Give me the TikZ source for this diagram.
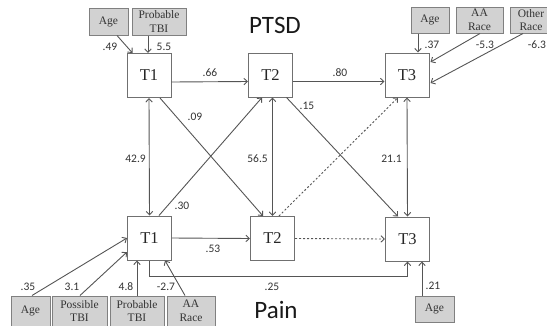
\documentclass[tikz,border=0pt]{standalone}
\usepackage{fontspec}
\setmainfont{Liberation Serif}
\newfontfamily\labfont{Carlito}
\usetikzlibrary{arrows.meta,calc}
\definecolor{boxc}{HTML}{707070}
\definecolor{gboxc}{HTML}{808080}
\definecolor{gfill}{HTML}{D2D2D2}
\definecolor{linec}{HTML}{555555}
\definecolor{labc}{HTML}{333333}
\begin{document}
\begin{tikzpicture}[x=1pt,y=-1pt,
 tbox/.style={draw=boxc, fill=white, line width=1pt, minimum width=44pt, minimum height=44pt, inner sep=0pt, text=black!85, font=\fontsize{16.5}{18}\selectfont},
 gbox/.style={draw=gboxc, fill=gfill, line width=1pt, inner sep=0pt, align=center, text=black!80, font=\fontsize{11.5}{13.5}\selectfont},
 arr/.style={draw=linec, line width=0.9pt, -{Straight Barb[length=3.5pt,width=6.5pt]}},
 darr/.style={draw=linec, line width=0.9pt, {Straight Barb[length=3.5pt,width=6.5pt]}-{Straight Barb[length=3.5pt,width=6.5pt]}},
 dotarr/.style={arr, dash pattern=on 2pt off 2pt},
 lbl/.style={font=\labfont\fontsize{11.5}{12}\selectfont, text=labc, inner sep=0pt},
 title/.style={font=\labfont\fontsize{25}{28}\selectfont, text=black!90, inner sep=0pt, anchor=base},
]
\useasboundingbox (0,0) rectangle (547,325);

% main boxes
\node[tbox] (t1p) at (149,75.5) {T1};
\node[tbox] (t2p) at (270.5,75) {T2};
\node[tbox] (t3p) at (407,75) {T3};
\node[tbox] (t1b) at (149.5,238) {T1};
\node[tbox] (t2b) at (272.5,238.5) {T2};
\node[tbox] (t3b) at (407.5,239) {T3};

% titles
\node[title] (ptsd) at (275,33) {PTSD};
\node[title] (pain) at (276,318.5) {Pain};

% covariate boxes top
\node[gbox, minimum width=39pt, minimum height=27pt] (agea) at (108.5,21.5) {Age};
\node[gbox, minimum width=54pt, minimum height=27pt] (tbia) at (159,21.5) {Probable\\TBI};
\node[gbox, minimum width=38pt, minimum height=26pt] (agec) at (430,20) {Age};
\node[gbox, minimum width=47pt, minimum height=26pt] (aac) at (479.5,20) {AA\\Race};
\node[gbox, minimum width=42pt, minimum height=26pt] (othc) at (531,20) {Other\\Race};

% covariate boxes bottom
\node[gbox, minimum width=39pt, minimum height=30pt] (ageb) at (30.5,311) {Age};
\node[gbox, minimum width=55pt, minimum height=30pt] (posb) at (79.5,311) {Possible\\TBI};
\node[gbox, minimum width=54pt, minimum height=30pt] (prob) at (137,311) {Probable\\TBI};
\node[gbox, minimum width=48pt, minimum height=30pt] (aab) at (191,311) {AA\\Race};
\node[gbox, minimum width=39pt, minimum height=26pt] (agebr) at (434.5,309) {Age};

% covariate arrows
\draw[arr] ($(agea.south)+(8.5,0)$) -- ($(t1p.north west)+(6,0)$);
\draw[arr] ($(tbia.south)+(-11,0)$) -- ($(t1p.north)+(-1,0)$);
\draw[arr] ($(agec.south)+(-12,0)$) -- ($(t3p.north)+(11,0)$);
\draw[arr] ($(aac.south)+(0.5,0)$) -- ($(t3p.east)+(1,-13)$);
\draw[arr] ($(othc.south)+(-8,0)$) -- ($(t3p.east)+(1,8)$);
\draw[arr] ($(ageb.north)+(1.5,0)$) -- (t1b.west);
\draw[arr] ($(posb.north)+(0.5,0)$) -- ($(t1b.west)+(0,14)$);
\draw[arr] (prob.north) -- (prob.north |- t1b.south);
\draw[arr] ($(aab.north)+(-6,0)$) -- ($(t1b.south)+(15.5,0)$);
\draw[arr] ($(agebr.north)+(-12.5,0)$) -- ($(t3b.south)+(14.5,0)$);

% structural paths
\draw[arr] ($(t1p.east)+(0,6.5)$) -- ($(t2p.west)+(0,6.5)$);
\draw[arr] ($(t2p.east)+(0,6.5)$) -- ($(t3p.west)+(0,6.5)$);
\draw[darr] (t1p.south) -- (t1b.north);
\draw[darr] (t2b.north |- t2p.south) -- (t2b.north);
\draw[darr] (t3p.south) -- (t3b.north);
\draw[arr] ($(t1p.south)+(11,0)$) -- ($(t2b.north)+(-9.5,0)$);
\draw[arr] ($(t1b.north)+(9.5,0)$) -- ($(t2p.south)+(-8.5,0)$);
\draw[arr] ($(t2p.south)+(16,0)$) -- ($(t3b.north)+(-9.5,0)$);
\draw[dotarr] ($(t2b.north)+(6.5,0)$) -- ($(t3p.south)+(-9,0)$);
\draw[arr] (t1b.east) -- (t2b.west);
\draw[dotarr] (t2b.east) -- (t3b.west);
\draw[arr] (t1b.south) -- ++(0,16) -| (t3b.south);

% labels
\node[lbl] (l49) at (110,47) {.49};
\node[lbl] (l55) at (164,47) {5.5};
\node[lbl] (l66) at (210,73) {.66};
\node[lbl] (l80) at (340,73) {.80};
\node[lbl] (l37) at (432,45) {.37};
\node[lbl] (l53n) at (485,45) {-5.3};
\node[lbl] (l63n) at (537,45) {-6.3};
\node[lbl] (l09) at (195,117) {.09};
\node[lbl] (l15) at (307,106) {.15};
\node[lbl, anchor=east] (l429) at (146,159) {42.9};
\node[lbl, anchor=east] (l565) at (268,159) {56.5};
\node[lbl, anchor=east] (l211) at (402,159) {21.1};
\node[lbl] (l30) at (182,206) {.30};
\node[lbl] (l53) at (213,249) {.53};
\node[lbl] (l25) at (272,287) {.25};
\node[lbl] (l35) at (28,287) {.35};
\node[lbl] (l31) at (72,287) {3.1};
\node[lbl] (l48) at (126,287) {4.8};
\node[lbl] (l27) at (166,287) {-2.7};
\node[lbl] (l21) at (433,286) {.21};
\end{tikzpicture}
\end{document}
